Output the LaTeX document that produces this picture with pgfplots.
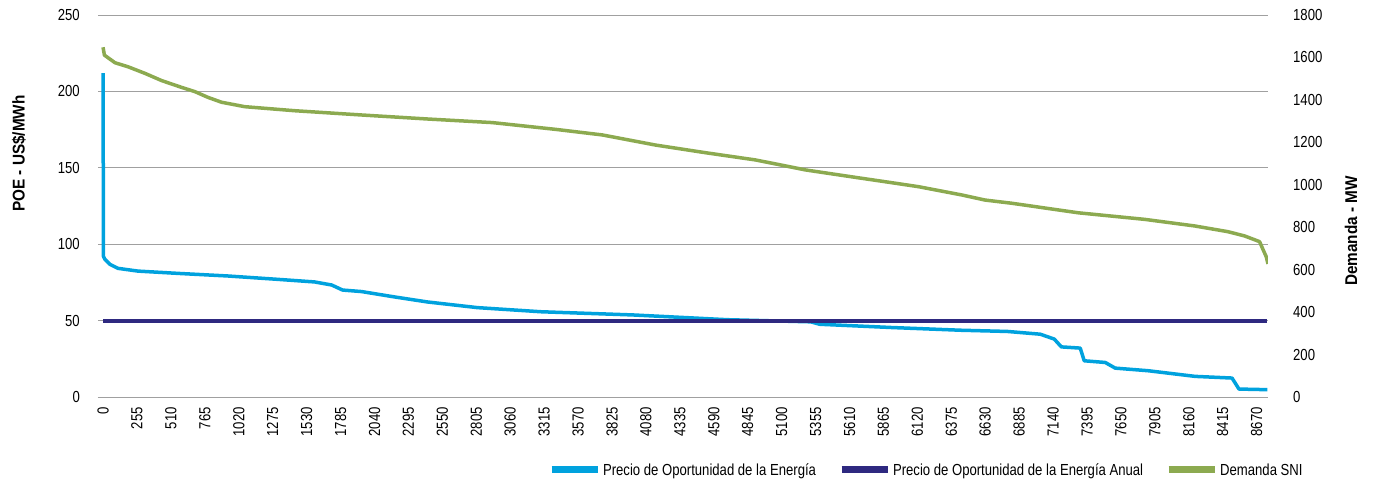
\documentclass[border=0pt]{standalone}
\usepackage{fontspec}
\setmainfont{Liberation Sans}[FakeStretch=0.82]
\newfontfamily\labelfont{Liberation Sans}[FakeStretch=0.9]
\usepackage{pgfplots}
\pgfplotsset{compat=1.18}
\definecolor{poeblue}{RGB}{0,162,222}
\definecolor{poedark}{RGB}{46,41,128}
\definecolor{demgreen}{RGB}{140,170,80}
\definecolor{gridgray}{RGB}{160,160,160}
\pgfplotsset{
  commonaxis/.style={
    width=1170pt, height=382pt, scale only axis,
    at={(0pt,0pt)}, anchor=south west,
    xmin=-38, xmax=8755,
    /pgf/number format/assume math mode=true,
    /pgf/number format/1000 sep={},
    ticklabel style={font=\fontsize{16}{18}\selectfont, inner sep=0pt},
    major tick length=0pt,
    tick style={draw=none},
  }
}
\begin{document}
\begin{tikzpicture}
\path[use as bounding box] (-98pt,-86pt) rectangle (1276pt,397pt);
\begin{axis}[commonaxis,
  ymin=0, ymax=250, ytick={0,50,...,250},
  xtick={0,255,...,8670},
  ymajorgrids, major grid style={gridgray, line width=0.9pt},
  axis x line*=bottom, axis y line*=left,
  x axis line style={draw=gridgray, line width=0.9pt, -},
  y axis line style={draw=none},
  xticklabel style={rotate=90, anchor=east},
  xticklabel shift=10pt,
  yticklabel shift=18pt,
  ylabel={POE - US\$/MWh},
  ylabel style={at={(axis description cs:-0.0675,0.637)}, anchor=center, font=\labelfont\fontsize{17}{19}\selectfont\bfseries},
  legend columns=3,
  legend style={at={(axis description cs:0.708,-0.191)}, anchor=center, draw=none, fill=none,
    font=\fontsize{16}{18}\selectfont,
    /tikz/every even column/.append style={column sep=20pt}},
  legend image code/.code={\draw[#1, line width=7pt] (0pt,0pt) -- (46pt,0pt);},
]
\addplot[poeblue, line width=3.5pt, line join=round] coordinates {
(0,212) (3,92) (15,90) (52,86.8) (112,84.2) (262,82.4) (563,80.9) (938,79.2)
(1313,77) (1590,75.3) (1718,73.3) (1800,70) (1943,69) (2190,65.5) (2438,62.2)
(2813,58.5) (3290,55.8) (3983,53.7) (4689,50.6) (5319,49.2) (5386,47.6) (5919,45.5)
(6444,43.7) (6797,42.9) (7044,41.1) (7149,37.9) (7202,32.8) (7344,32) (7374,23.7)
(7532,22.6) (7607,18.9) (7854,17.2) (8207,13.5) (8485,12.4) (8537,5.2) (8750,4.8)
};
\addlegendentry{Precio de Oportunidad de la Energía}
\addplot[poedark, line width=3.5pt] coordinates {(0,49.8) (8750,49.8)};
\addlegendentry{Precio de Oportunidad de la Energía Anual}
\addlegendimage{demgreen, line width=3.5pt}
\addlegendentry{Demanda SNI}
\end{axis}
\begin{axis}[commonaxis,
  ymin=0, ymax=1800, ytick={0,200,...,1800},
  axis y line*=right, axis x line=none,
  y axis line style={draw=none},
  yticklabel style={anchor=west},
  yticklabel shift=25pt,
  ylabel={Demanda - MW},
  ylabel style={at={(axis description cs:1.0709,0.435)}, anchor=center, rotate=0, font=\labelfont\fontsize{17}{19}\selectfont\bfseries},
]
\addplot[demgreen, line width=3.5pt, line join=round] coordinates {
(0,1648) (10,1611) (90,1575) (188,1556) (315,1525) (440,1491) (590,1459) (690,1439)
(788,1412) (890,1389) (1065,1368) (1440,1349) (1940,1329) (2438,1310) (2926,1293)
(3403,1261) (3751,1235) (4154,1187) (4529,1151) (4904,1117) (5279,1070) (5654,1035)
(5904,1012) (6129,991) (6454,952) (6629,928) (6829,913) (7329,868) (7829,837)
(8204,806) (8454,779) (8579,759) (8692,732) (8717,696) (8742,661) (8755,627)
};
\end{axis}
\end{tikzpicture}
\end{document}
